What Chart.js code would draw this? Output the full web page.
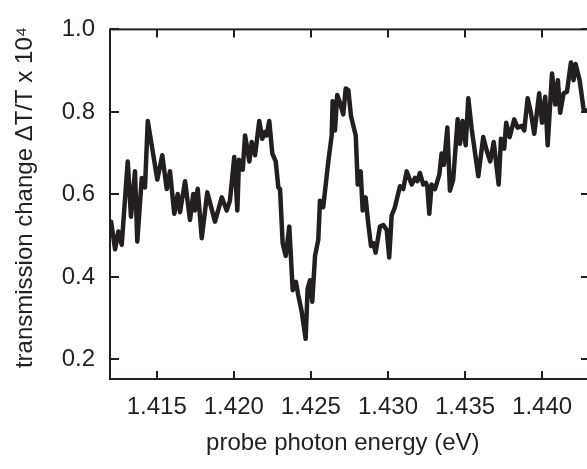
<!DOCTYPE html>
<html>
<head>
<meta charset="utf-8">
<script src="https://cdn.jsdelivr.net/npm/chart.js@4/dist/chart.umd.min.js"></script>
<style>
  html, body { margin: 0; padding: 0; background: #fff; overflow: hidden; }
  canvas { display: block; }
</style>
</head>
<body>
<canvas id="c" width="590" height="469"></canvas>
<script>
// Probe photon energy (eV)
const energy = [1.41204,1.41230,1.41251,1.41273,1.41312,1.41333,1.41359,1.41374,1.41403,1.41424,
  1.41442,1.41504,1.41536,1.41565,1.41586,1.41614,1.41636,1.41651,1.41684,1.41716,
  1.41737,1.41748,1.41766,1.41792,1.41828,1.41878,1.41922,1.41954,1.41975,1.42003,
  1.42023,1.42034,1.42058,1.42073,1.42101,1.42116,1.42138,1.42165,1.42185,1.42202,
  1.42213,1.42230,1.42250,1.42272,1.42289,1.42300,1.42317,1.42337,1.42360,1.42382,
  1.42403,1.42418,1.42440,1.42466,1.42479,1.42494,1.42509,1.42527,1.42548,1.42559,
  1.42580,1.42613,1.42635,1.42641,1.42656,1.42671,1.42689,1.42710,1.42726,1.42743,
  1.42760,1.42791,1.42804,1.42823,1.42836,1.42855,1.42872,1.42890,1.42905,1.42920,
  1.42948,1.42970,1.42992,1.43008,1.43024,1.43045,1.43078,1.43099,1.43121,1.43154,
  1.43175,1.43190,1.43207,1.43229,1.43246,1.43255,1.43268,1.43283,1.43305,1.43333,
  1.43348,1.43363,1.43385,1.43402,1.43423,1.43452,1.43467,1.43484,1.43504,1.43521,
  1.43543,1.43586,1.43618,1.43640,1.43663,1.43686,1.43718,1.43733,1.43754,1.43767,
  1.43789,1.43819,1.43841,1.43869,1.43884,1.43906,1.43927,1.43949,1.43981,1.43999,
  1.44020,1.44036,1.44064,1.44085,1.44102,1.44117,1.44139,1.44161,1.44187,1.44204,
  1.44217,1.44243,1.44258,1.44269,1.44291];

// Transmission change dT/T (units of 1e-4)
const signal = [0.534,0.467,0.510,0.478,0.680,0.546,0.656,0.486,0.640,0.617,
  0.778,0.636,0.695,0.613,0.656,0.553,0.601,0.557,0.632,0.538,
  0.601,0.561,0.614,0.494,0.605,0.534,0.593,0.561,0.585,0.691,
  0.561,0.684,0.660,0.743,0.680,0.727,0.695,0.778,0.735,0.751,
  0.743,0.778,0.699,0.680,0.617,0.613,0.482,0.451,0.522,0.368,
  0.388,0.356,0.317,0.250,0.372,0.392,0.340,0.451,0.490,0.585,
  0.569,0.680,0.743,0.826,0.755,0.841,0.822,0.794,0.857,0.853,
  0.790,0.743,0.624,0.656,0.561,0.593,0.530,0.475,0.482,0.459,
  0.522,0.526,0.514,0.447,0.549,0.569,0.620,0.613,0.656,0.624,
  0.640,0.632,0.652,0.624,0.628,0.620,0.553,0.624,0.613,0.648,
  0.699,0.672,0.762,0.609,0.636,0.782,0.723,0.778,0.719,0.833,
  0.759,0.644,0.739,0.707,0.680,0.727,0.624,0.735,0.711,0.774,
  0.739,0.782,0.762,0.766,0.755,0.833,0.798,0.747,0.845,0.774,
  0.837,0.719,0.893,0.818,0.877,0.798,0.845,0.849,0.920,0.877,
  0.916,0.877,0.837,0.806,0.802];

const xTickValues = [1.415, 1.420, 1.425, 1.430, 1.435, 1.440];
const yTickValues = [0.2, 0.4, 0.6, 0.8, 1.0];

const INK = '#231f20';
const FONT = '"Liberation Sans", Arial, Helvetica, sans-serif';
const NBSP2 = '\u00A0\u00A0'; // nudges a centred title a few pixels off centre

// Closed frame with inward-pointing ticks on all four sides
const frameTicks = {
  id: 'frameTicks',
  afterDatasetsDraw(chart) {
    const { ctx, chartArea: a, scales: { x, y } } = chart;
    ctx.save();
    ctx.strokeStyle = INK;
    ctx.lineWidth = 2;
    ctx.strokeRect(a.left, a.top, a.right - a.left, a.bottom - a.top);
    ctx.beginPath();
    x.ticks.forEach(t => {
      const px = Math.round(x.getPixelForValue(t.value));
      ctx.moveTo(px, a.bottom); ctx.lineTo(px, a.bottom - 8);
      ctx.moveTo(px, a.top);    ctx.lineTo(px, a.top + 8);
    });
    y.ticks.forEach(t => {
      const py = Math.round(y.getPixelForValue(t.value));
      ctx.moveTo(a.left, py);  ctx.lineTo(a.left + 9, py);
      ctx.moveTo(a.right, py); ctx.lineTo(a.right - 8, py);
    });
    ctx.stroke();
    ctx.restore();
  }
};

new Chart(document.getElementById('c'), {
  type: 'line',
  data: {
    datasets: [{
      data: energy.map((e, i) => ({ x: e, y: signal[i] })),
      borderColor: INK,
      borderWidth: 4.5,
      borderJoinStyle: 'round',
      borderCapStyle: 'round',
      pointRadius: 0,
      tension: 0,
      fill: false
    }]
  },
  options: {
    responsive: false,
    devicePixelRatio: 1,
    animation: false,
    layout: { padding: { left: 0, top: 21, right: 1, bottom: 0 } },
    plugins: { legend: { display: false }, tooltip: { enabled: false } },
    scales: {
      x: {
        type: 'linear',
        min: 1.41197,
        max: 1.44304,
        afterBuildTicks: s => { s.ticks = xTickValues.map(v => ({ value: v })); },
        afterFit: s => { s.height = 90; },
        grid: { display: false, drawTicks: false },
        border: { display: false },
        ticks: {
          color: INK,
          font: { family: FONT, size: 24 },
          padding: 14,
          maxRotation: 0,
          autoSkip: false,
          callback: v => v.toFixed(3)
        },
        title: {
          display: true,
          text: 'probe photon energy (eV)' + NBSP2,
          color: INK,
          font: { family: FONT, size: 24 },
          padding: { top: 0, bottom: 11 }
        }
      },
      y: {
        type: 'linear',
        min: 0.1527,
        max: 1.0,
        afterBuildTicks: s => { s.ticks = yTickValues.map(v => ({ value: v })); },
        afterFit: s => { s.width = 110; },
        grid: { display: false, drawTicks: false },
        border: { display: false },
        ticks: {
          color: INK,
          font: { family: FONT, size: 24 },
          padding: 15,
          autoSkip: false,
          callback: v => v.toFixed(1)
        },
        title: {
          display: true,
          text: NBSP2 + 'transmission change \u0394T/T x 10\u2074',
          color: INK,
          font: { family: FONT, size: 24 },
          padding: { top: 11, bottom: 0 }
        }
      }
    }
  },
  plugins: [frameTicks]
});
</script>
</body>
</html>
